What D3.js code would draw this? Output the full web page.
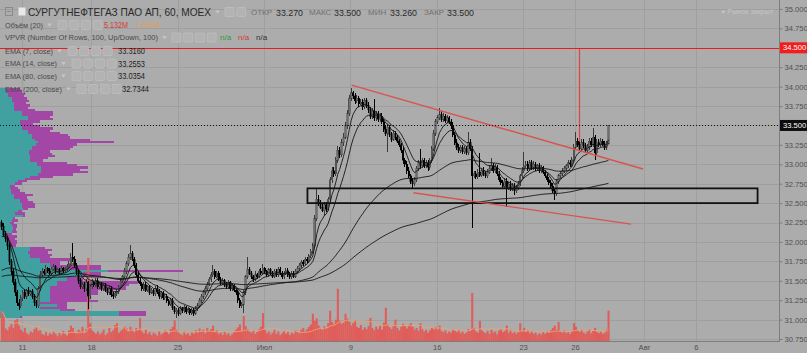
<!DOCTYPE html>
<html><head><meta charset="utf-8">
<script src="https://cdn.jsdelivr.net/npm/d3@7"></script>
<style>
body{margin:0;background:#acacac;overflow:hidden}
svg{display:block}
text{font-family:"Liberation Sans",Arial,sans-serif}
</style>
</head><body><svg id="c" width="807" height="353"></svg>
<script>
// ---------- DATA ----------
const opens=[
32.25,32.20,32.10,32.05,31.95,31.75,31.62,31.48,31.35,31.22,
31.18,31.28,31.35,31.30,31.38,31.33,31.36,31.30,31.22,31.18,
31.40,31.58,31.62,31.60,31.66,31.63,31.60,31.65,31.68,31.62,
31.64,31.60,31.66,31.63,31.65,31.68,31.72,31.80,31.78,31.70,
31.62,31.50,31.42,31.45,31.40,31.48,31.30,31.42,31.48,31.45,
31.50,31.42,31.46,31.40,31.44,31.38,31.35,31.40,31.32,31.30,
31.34,31.36,31.42,31.50,31.55,31.62,31.72,31.80,31.85,31.78,
31.70,31.58,31.50,31.46,31.40,31.45,31.38,31.42,31.35,31.38,
31.33,31.40,31.36,31.30,31.34,31.28,31.30,31.24,31.20,31.25,
31.15,31.10,31.12,31.08,31.14,31.12,31.16,31.10,31.13,31.09,
31.12,31.08,31.14,31.18,31.25,31.30,31.35,31.40,31.45,31.52,
31.58,31.62,31.55,31.60,31.52,31.48,31.50,31.45,31.42,31.48,
31.40,31.44,31.38,31.35,31.25,31.18,31.20,31.35,31.55,31.65,
31.60,31.55,31.52,31.58,31.55,31.62,31.60,31.66,31.62,31.58,
31.64,31.60,31.56,31.62,31.58,31.65,31.60,31.55,31.60,31.63,
31.58,31.55,31.60,31.56,31.62,31.66,31.70,31.74,31.72,31.78,
31.76,31.82,31.88,31.95,32.30,32.55,32.50,32.45,32.40,32.48,
32.42,32.55,32.80,32.92,32.88,33.05,33.18,33.12,33.28,33.35,
33.50,33.65,33.85,33.92,33.88,33.82,33.85,33.78,33.80,33.74,
33.82,33.76,33.70,33.62,33.68,33.60,33.65,33.58,33.62,33.55,
33.45,33.40,33.48,33.38,33.32,33.40,33.35,33.30,33.25,33.18,
33.05,33.00,32.92,32.85,32.78,32.75,32.80,32.95,33.02,32.98,
33.05,32.98,33.02,32.96,33.05,33.20,33.40,33.55,33.60,33.64,
33.58,33.62,33.56,33.60,33.55,33.50,33.38,33.28,33.22,33.18,
33.22,33.16,33.20,33.15,33.28,33.20,32.85,32.88,32.84,32.90,
32.86,32.92,32.88,32.85,32.90,32.95,32.98,32.92,32.96,32.88,
32.80,32.76,32.72,32.78,32.70,32.74,32.68,32.72,32.66,32.70,
32.75,32.85,32.92,32.98,33.00,32.94,33.02,32.96,33.00,32.95,
32.98,32.92,32.96,32.90,32.85,32.80,32.76,32.72,32.66,32.62,
32.78,32.85,32.88,32.92,32.95,32.98,33.02,33.00,33.06,33.22,
33.30,33.25,33.20,33.28,33.24,33.18,33.22,33.30,33.25,33.35,
33.15,33.28,33.25,33.30,33.26,33.22,33.27];
const highs=[
32.28,32.24,32.14,32.08,31.98,31.78,31.66,31.52,31.38,31.26,
31.32,31.38,31.40,31.40,31.42,31.38,31.40,31.33,31.25,31.43,
31.62,31.66,31.65,31.70,31.68,31.66,31.68,31.72,31.70,31.67,
31.66,31.69,31.68,31.68,31.72,31.75,31.86,31.99,31.82,31.73,
31.65,31.54,31.48,31.48,31.52,31.50,31.45,31.52,31.50,31.54,
31.53,31.48,31.48,31.47,31.47,31.41,31.43,31.43,31.35,31.37,
31.40,31.45,31.53,31.58,31.66,31.76,31.84,31.96,31.88,31.81,
31.73,31.62,31.53,31.49,31.48,31.48,31.45,31.45,31.41,31.40,
31.43,31.44,31.39,31.37,31.37,31.33,31.33,31.27,31.28,31.28,
31.18,31.15,31.15,31.17,31.16,31.19,31.18,31.16,31.15,31.15,
31.15,31.17,31.21,31.28,31.33,31.38,31.43,31.48,31.55,31.61,
31.70,31.65,31.63,31.62,31.55,31.53,31.52,31.48,31.51,31.50,
31.47,31.46,31.40,31.38,31.28,31.23,31.38,31.58,31.80,31.68,
31.63,31.58,31.62,31.60,31.65,31.66,31.72,31.68,31.64,31.67,
31.67,31.62,31.65,31.65,31.68,31.68,31.63,31.62,31.66,31.66,
31.61,31.63,31.62,31.65,31.69,31.73,31.77,31.77,31.81,31.80,
31.85,31.91,31.99,32.35,32.68,32.60,32.54,32.50,32.52,32.52,
32.58,32.84,32.97,32.96,33.09,33.24,33.22,33.32,33.40,33.55,
33.70,33.89,33.98,33.95,33.92,33.89,33.88,33.84,33.84,33.86,
33.85,33.80,33.74,33.72,33.84,33.68,33.68,33.66,33.66,33.58,
33.50,33.52,33.50,33.42,33.44,33.43,33.38,33.33,33.28,33.22,
33.08,33.04,32.96,32.88,32.82,32.84,32.98,33.06,33.20,33.08,
33.08,33.05,33.05,33.08,33.24,33.44,33.58,33.64,33.72,33.68,
33.66,33.65,33.63,33.62,33.58,33.54,33.42,33.32,33.26,33.25,
33.25,33.23,33.24,33.42,33.32,33.24,32.92,32.92,32.94,33.15,
32.95,32.96,32.92,32.94,32.99,33.08,33.02,33.00,32.99,32.92,
32.84,32.80,32.82,32.82,32.77,32.78,32.76,32.76,32.73,32.78,
32.88,32.96,33.16,33.04,33.04,33.06,33.05,33.04,33.03,33.01,
33.02,32.99,32.98,32.93,32.88,32.83,32.80,32.76,32.70,32.81,
32.88,32.92,32.95,32.98,33.01,33.05,33.06,33.10,33.26,33.42,
33.34,33.30,33.32,33.32,33.28,33.26,33.34,33.34,33.47,33.38,
33.32,33.32,33.34,33.33,33.30,33.30,33.50];
const lows=[
32.15,32.06,32.00,31.90,31.70,31.58,31.44,31.30,31.18,31.12,
31.15,31.24,31.27,31.27,31.30,31.30,31.27,31.18,31.15,31.15,
31.37,31.55,31.57,31.57,31.60,31.57,31.57,31.62,31.59,31.60,
31.57,31.57,31.60,31.60,31.62,31.65,31.70,31.74,31.67,31.58,
31.46,31.39,31.39,31.36,31.37,31.13,31.27,31.39,31.42,31.42,
31.39,31.40,31.37,31.37,31.35,31.32,31.32,31.29,31.27,31.28,
31.31,31.33,31.39,31.47,31.52,31.59,31.69,31.77,31.75,31.67,
31.55,31.47,31.43,31.37,31.37,31.35,31.35,31.32,31.33,31.30,
31.30,31.33,31.27,31.27,31.25,31.25,31.21,31.17,31.17,31.12,
31.07,31.02,31.05,31.06,31.09,31.09,31.07,31.08,31.06,31.06,
31.05,31.06,31.11,31.15,31.22,31.27,31.32,31.37,31.43,31.49,
31.55,31.52,31.53,31.50,31.45,31.45,31.42,31.40,31.40,31.37,
31.37,31.35,31.32,31.22,31.15,31.15,31.09,31.32,31.52,31.57,
31.52,31.49,31.50,31.52,31.53,31.57,31.57,31.59,31.55,31.55,
31.57,31.53,31.53,31.55,31.55,31.57,31.52,31.52,31.57,31.55,
31.52,31.52,31.53,31.53,31.59,31.63,31.67,31.69,31.70,31.73,
31.73,31.79,31.85,31.92,32.27,32.46,32.42,32.38,32.34,32.38,
32.40,32.52,32.76,32.84,32.85,33.02,33.08,33.09,33.24,33.32,
33.46,33.62,33.82,33.84,33.78,33.79,33.74,33.76,33.70,33.71,
33.72,33.66,33.58,33.58,33.56,33.56,33.55,33.54,33.52,33.42,
33.36,33.16,33.35,33.29,33.30,33.31,33.27,33.22,33.14,33.00,
32.96,32.88,32.82,32.74,32.70,32.72,32.77,32.92,32.94,32.95,
32.95,32.95,32.92,32.93,33.02,33.17,33.37,33.52,33.57,33.55,
33.55,33.53,33.53,33.52,33.46,33.35,33.25,33.18,33.14,33.15,
33.13,33.13,33.12,33.12,33.17,32.18,32.82,32.81,32.81,32.83,
32.83,32.85,32.82,32.82,32.87,32.92,32.89,32.89,32.85,32.77,
32.73,32.69,32.69,32.45,32.67,32.65,32.65,32.60,32.63,32.67,
32.72,32.82,32.89,32.95,32.91,32.91,32.93,32.93,32.92,32.92,
32.89,32.89,32.87,32.82,32.77,32.73,32.69,32.63,32.54,32.59,
32.75,32.82,32.85,32.89,32.92,32.95,32.97,32.97,33.03,33.19,
33.22,33.17,33.17,33.21,33.15,33.15,33.19,33.22,33.22,33.06,
33.12,33.22,33.22,33.23,33.19,33.19,33.26];
const closes=[
32.20,32.10,32.05,31.95,31.75,31.62,31.48,31.35,31.22,31.18,
31.28,31.35,31.30,31.38,31.33,31.36,31.30,31.22,31.18,31.40,
31.58,31.62,31.60,31.66,31.63,31.60,31.65,31.68,31.62,31.64,
31.60,31.66,31.63,31.65,31.68,31.72,31.80,31.78,31.70,31.62,
31.50,31.42,31.45,31.40,31.48,31.30,31.42,31.48,31.45,31.50,
31.42,31.46,31.40,31.44,31.38,31.35,31.40,31.32,31.30,31.34,
31.36,31.42,31.50,31.55,31.62,31.72,31.80,31.85,31.78,31.70,
31.58,31.50,31.46,31.40,31.45,31.38,31.42,31.35,31.38,31.33,
31.40,31.36,31.30,31.34,31.28,31.30,31.24,31.20,31.25,31.15,
31.10,31.12,31.08,31.14,31.12,31.16,31.10,31.13,31.09,31.12,
31.08,31.14,31.18,31.25,31.30,31.35,31.40,31.45,31.52,31.58,
31.62,31.55,31.60,31.52,31.48,31.50,31.45,31.42,31.48,31.40,
31.44,31.38,31.35,31.25,31.18,31.20,31.35,31.55,31.65,31.60,
31.55,31.52,31.58,31.55,31.62,31.60,31.66,31.62,31.58,31.64,
31.60,31.56,31.62,31.58,31.65,31.60,31.55,31.60,31.63,31.58,
31.55,31.60,31.56,31.62,31.66,31.70,31.74,31.72,31.78,31.76,
31.82,31.88,31.95,32.30,32.55,32.50,32.45,32.40,32.48,32.42,
32.55,32.80,32.92,32.88,33.05,33.18,33.12,33.28,33.35,33.50,
33.65,33.85,33.92,33.88,33.82,33.85,33.78,33.80,33.74,33.82,
33.76,33.70,33.62,33.68,33.60,33.65,33.58,33.62,33.55,33.45,
33.40,33.48,33.38,33.32,33.40,33.35,33.30,33.25,33.18,33.05,
33.00,32.92,32.85,32.78,32.75,32.80,32.95,33.02,32.98,33.05,
32.98,33.02,32.96,33.05,33.20,33.40,33.55,33.60,33.64,33.58,
33.62,33.56,33.60,33.55,33.50,33.38,33.28,33.22,33.18,33.22,
33.16,33.20,33.15,33.28,33.20,32.85,32.88,32.84,32.90,32.86,
32.92,32.88,32.85,32.90,32.95,32.98,32.92,32.96,32.88,32.80,
32.76,32.72,32.78,32.70,32.74,32.68,32.72,32.66,32.70,32.75,
32.85,32.92,32.98,33.00,32.94,33.02,32.96,33.00,32.95,32.98,
32.92,32.96,32.90,32.85,32.80,32.76,32.72,32.66,32.62,32.78,
32.85,32.88,32.92,32.95,32.98,33.02,33.00,33.06,33.22,33.30,
33.25,33.20,33.28,33.24,33.18,33.22,33.30,33.25,33.35,33.15,
33.28,33.25,33.30,33.26,33.22,33.27,33.50];
// volume, millions
const volumes=[
5.0,4.2,2.1,1.8,2.4,2.9,2.2,3.5,3.7,2.6,
1.9,1.5,2.2,1.3,1.1,1.6,1.4,2.0,2.3,1.7,
1.8,1.2,1.0,1.5,0.9,1.3,1.1,1.6,1.2,0.8,
1.4,1.0,1.7,1.2,0.9,1.8,2.6,2.2,1.5,1.3,
1.9,1.6,2.4,1.4,2.0,14.0,3.0,1.8,1.5,1.2,
1.6,1.1,1.4,1.9,1.0,1.3,2.2,1.5,1.8,2.7,
3.0,1.4,1.7,2.0,2.5,2.1,1.6,2.4,1.9,1.5,
2.2,1.8,3.9,1.6,1.3,1.9,1.2,1.5,1.0,1.4,
1.2,0.9,1.6,1.1,1.3,1.8,1.5,1.2,2.0,2.4,
3.5,1.9,1.4,1.2,1.0,1.6,1.1,1.3,0.9,1.5,
1.2,1.8,1.4,2.1,1.6,1.9,1.3,2.2,1.7,2.0,
2.6,1.5,1.8,1.2,1.4,1.0,1.6,1.1,1.3,0.9,
1.2,1.5,1.9,2.3,2.8,1.7,4.2,2.5,2.0,1.6,
1.4,1.8,1.2,1.5,2.0,2.4,4.7,1.9,1.3,1.6,
1.1,1.4,1.9,1.2,1.6,1.0,1.3,1.7,1.2,1.5,
1.0,1.4,1.2,1.8,1.5,1.3,1.9,2.2,1.6,2.0,
2.4,2.8,4.6,3.4,3.8,2.6,2.2,1.9,2.5,2.1,
3.0,5.1,3.2,2.8,3.6,8.8,3.4,2.9,3.1,4.6,
3.8,3.2,2.6,3.0,3.5,2.4,2.2,2.7,1.9,2.3,
2.0,2.5,3.9,2.2,1.8,2.4,2.0,2.6,1.9,3.1,
5.6,2.8,2.3,2.0,2.6,3.6,2.2,1.8,2.4,2.9,
2.5,2.1,2.7,3.0,2.4,1.9,2.2,1.7,3.0,2.0,
1.6,1.9,1.4,1.8,2.3,2.0,2.4,1.9,2.6,1.7,
1.5,1.8,1.3,1.6,1.4,2.0,1.7,1.5,1.9,1.3,
1.6,1.2,1.4,2.0,1.8,8.1,2.2,1.6,1.4,3.4,
1.8,1.5,1.3,1.7,1.2,1.9,1.4,1.6,1.1,1.8,
2.0,1.5,1.7,2.6,1.4,1.9,1.3,1.6,1.2,1.5,
3.0,1.7,2.2,1.5,1.8,1.3,1.6,1.2,1.4,1.0,
1.3,1.1,1.5,1.2,1.6,1.4,1.8,2.2,2.6,1.9,
3.2,1.6,1.4,1.8,1.3,1.5,1.2,1.7,3.0,2.4,
1.8,1.5,1.9,1.4,1.2,1.6,2.0,1.3,1.7,2.2,
1.5,1.3,1.6,1.2,1.4,1.9,5.132];
// Volume profile, 100 rows from highest price to lowest
const vpUp=[
6,6,8,8,12,12,14,14,14,14,
22,22,28,28,20,20,22,22,28,28,
32,32,35,38,36,32,32,29,29,30,
30,30,37,37,41,41,41,38,30,25,
18,15,10,10,11,11,14,14,20,20,
22,22,23,18,15,23,13,12,10,12,
13,13,12,6,6,5,7,10,10,30,
30,28,30,30,40,40,50,50,55,107,
83,83,67,67,57,57,50,50,50,50,
50,50,50,40,57,40,60,118,118,20];
const vpDown=[
14,16,17,16,15,17,12,16,14,21,
31,31,22,25,20,13,18,31,22,32,
36,38,55,75,41,41,38,21,23,25,
18,13,30,40,47,39,47,35,23,15,
9,7,5,8,9,14,19,13,8,13,
13,13,5,4,10,2,2,6,4,5,
4,3,5,6,11,10,10,7,6,15,
22,20,22,20,32,20,10,50,45,75,
17,17,16,16,80,71,75,75,47,47,
37,40,47,27,10,27,15,27,27,2];
// EMA settings and their starting values at the first visible bar
const emaPeriods=[7,14,80,200];
const emaSeeds=[32.15,32.05,31.62,31.55];
const emaLegendValues=["33.3160","33.2553","33.0354","32.7344"];
// time axis: trading-day index (0 = 11 June)
const timeTickLabels=["11","18","25","Июл","9","16","23","26","Авг","6"];
const timeTickDays=[0,4,9,14,19,24,29,32,36,39];
const dayDomain=[-1.273,43.81];
const firstBarDay=-1.17, barsPerDay=9;
const priceTicks=[30.75,31.00,31.25,31.50,31.75,32.00,32.25,32.50,32.75,33.00,33.25,33.50,33.75,34.00,34.25,34.50,34.75,35.00];
// drawings: [day, price]
const trendUpper=[[19.08,34.02],[35.94,32.94]];
const trendLower=[[22.65,32.634],[35.25,32.23]];
const targetLine=[[32.265,34.5],[32.265,33.29]];
const levelPrice=34.5, lastPrice=33.5;
const zoneBox={d0:16.52,d1:42.57,p0:32.50,p1:32.69};
const ohlcHeader=["33.270","33.500","33.260","33.500"];

// ---------- CHART ----------
const svg=d3.select("#c");
const plotR=779, plotB=341;
const x=d3.scaleLinear().domain(dayDomain).range([0,plotR]);
const y=d3.scaleLinear().domain([30.75,35]).range([339,9]);
const bx=i=>x(firstBarDay+i/barsPerDay);
const barStep=bx(1)-bx(0);

svg.append("rect").attr("width",807).attr("height",353).attr("fill","#acacac");

// grid
const grid=svg.append("g").attr("shape-rendering","crispEdges");
grid.selectAll(".hg").data(priceTicks).join("line")
  .attr("x1",0).attr("x2",plotR).attr("y1",d=>Math.round(y(d))+0.5).attr("y2",d=>Math.round(y(d))+0.5)
  .attr("stroke","#9f9f9f");
grid.selectAll(".vg").data(timeTickDays).join("line")
  .attr("x1",d=>Math.round(x(d))+0.5).attr("x2",d=>Math.round(x(d))+0.5).attr("y1",0).attr("y2",plotB)
  .attr("stroke","#9f9f9f");

// volume profile
const pHi=d3.max(highs), pLo=d3.min(lows), rowH=(pHi-pLo)/vpUp.length;
const vpMax=d3.max(vpUp.map((u,k)=>u+vpDown[k]));
const xp=d3.scaleLinear().domain([0,vpMax]).range([0,183]);
const vp=svg.append("g").attr("shape-rendering","crispEdges");
vpUp.forEach((u,k)=>{
  const top=y(pHi-k*rowH), bot=y(pHi-(k+1)*rowH);
  vp.append("rect").attr("x",0).attr("y",top).attr("width",xp(u)).attr("height",bot-top).attr("fill","#41a0a0");
  vp.append("rect").attr("x",xp(u)).attr("y",top).attr("width",xp(vpDown[k])).attr("height",bot-top).attr("fill","#a247a6");
});

// volume
const yv=d3.scaleLinear().domain([0,14.5]).range([plotB,255]);
svg.append("g").selectAll("rect").data(volumes).join("rect")
  .attr("x",(d,i)=>bx(i)-barStep/2).attr("width",barStep+0.15)
  .attr("y",d=>yv(d)).attr("height",d=>plotB-yv(d)).attr("fill","#e05d5a");
const volMA=volumes.map((v,i)=>d3.mean(volumes.slice(Math.max(0,i-19),i+1)));
svg.append("path").datum(volMA).attr("fill","none").attr("stroke","#f2a36a").attr("stroke-width",1).attr("opacity",0.85)
  .attr("d",d3.line().x((d,i)=>bx(i)).y(d=>yv(d)));

// candles
const cg=svg.append("g").attr("shape-rendering","crispEdges");
closes.forEach((c,i)=>{
  const o=opens[i], h=Math.max(highs[i],o,c), l=Math.min(lows[i],o,c), up=c>=o;
  const cx=bx(i);
  cg.append("line").attr("x1",cx).attr("x2",cx).attr("y1",y(h)).attr("y2",y(l))
    .attr("stroke",up?"#3a3a3a":"#000").attr("stroke-width",1);
  const t=y(Math.max(o,c)), b=y(Math.min(o,c));
  cg.append("rect").attr("x",cx-0.8).attr("width",1.6).attr("y",t).attr("height",Math.max(1,b-t))
    .attr("fill",up?"#6f6f6f":"#000").attr("stroke",up?"#2e2e2e":"#000").attr("stroke-width",0.4);
});

// EMAs
emaPeriods.forEach((p,k)=>{
  const a=2/(p+1); let e=emaSeeds[k]; const vals=[];
  closes.forEach(c=>{e=a*c+(1-a)*e; vals.push(e);});
  svg.append("path").datum(vals).attr("fill","none").attr("stroke","#151515").attr("stroke-width",0.9)
    .attr("d",d3.line().x((d,i)=>bx(i)).y(d=>y(d)));
});

// drawings
const dl=svg.append("g");
dl.append("rect").attr("x",x(zoneBox.d0)).attr("y",y(zoneBox.p1)).attr("width",x(zoneBox.d1)-x(zoneBox.d0))
  .attr("height",y(zoneBox.p0)-y(zoneBox.p1)).attr("fill","none").attr("stroke","#111").attr("stroke-width",1.8);
[trendUpper,trendLower].forEach(t=>{
  dl.append("line").attr("x1",x(t[0][0])).attr("y1",y(t[0][1])).attr("x2",x(t[1][0])).attr("y2",y(t[1][1]))
    .attr("stroke","#d9534f").attr("stroke-width",1.4);
});
dl.append("line").attr("x1",x(targetLine[0][0])).attr("y1",y(targetLine[0][1])).attr("x2",x(targetLine[1][0])).attr("y2",y(targetLine[1][1]))
  .attr("stroke","#e0443f").attr("stroke-width",1.2);
dl.append("line").attr("x1",0).attr("x2",plotR).attr("y1",Math.round(y(levelPrice))+0.5).attr("y2",Math.round(y(levelPrice))+0.5)
  .attr("stroke","#f01818").attr("stroke-width",1).attr("shape-rendering","crispEdges");
dl.append("line").attr("x1",0).attr("x2",plotR).attr("y1",Math.round(y(lastPrice))+0.5).attr("y2",Math.round(y(lastPrice))+0.5)
  .attr("stroke","#111").attr("stroke-width",1).attr("stroke-dasharray","1,2").attr("shape-rendering","crispEdges");

// axes
const ax=svg.append("g");
ax.append("line").attr("x1",plotR+0.5).attr("x2",plotR+0.5).attr("y1",0).attr("y2",plotB+0.5).attr("stroke","#7d7d7d").attr("shape-rendering","crispEdges");
ax.append("line").attr("x1",0).attr("x2",plotR+0.5).attr("y1",plotB+0.5).attr("y2",plotB+0.5).attr("stroke","#7d7d7d").attr("shape-rendering","crispEdges");
const yAxis=d3.axisRight(y).tickValues(priceTicks).tickFormat(d3.format(".3f")).tickSize(3).tickPadding(2);
const ya=ax.append("g").attr("transform",`translate(${plotR+0.5},0)`).call(yAxis);
ya.select(".domain").remove();
ya.selectAll("line").attr("stroke","#7d7d7d");
ya.selectAll("text").attr("fill","#505050").attr("font-size",7.6).attr("font-family","Liberation Sans, Arial");
const tickMap=new Map(timeTickDays.map((d,i)=>[d,timeTickLabels[i]]));
const xAxis=d3.axisBottom(x).tickValues(timeTickDays).tickFormat(d=>tickMap.get(d)).tickSize(0).tickPadding(3);
const xa=ax.append("g").attr("transform",`translate(0,${plotB+0.5})`).call(xAxis);
xa.select(".domain").remove();
xa.selectAll("text").attr("fill","#505050").attr("font-size",7.6).attr("font-family","Liberation Sans, Arial");

// price labels on axis
function priceBox(p,fill,label){
  const yy=y(p);
  ax.append("rect").attr("x",plotR+1).attr("y",yy-5.5).attr("width",807-plotR-1).attr("height",11).attr("fill",fill);
  ax.append("text").attr("x",plotR+4).attr("y",yy).attr("dominant-baseline","central").attr("fill","#fff")
    .attr("font-size",7.6).text(label);
}
priceBox(levelPrice,"#f21c1c","34.500");
priceBox(lastPrice,"#0d0d0d","33.500");

// market status
svg.append("text").attr("x",721).attr("y",11).attr("dominant-baseline","central").attr("fill","#c4c4c4").attr("font-size",7.2)
  .text("● Рынок закрыт");

// legend / header
const lg=svg.append("g");
function txt(xx,yy,s,size,fill,len,weight){
  const t=lg.append("text").attr("x",xx).attr("y",yy).attr("dominant-baseline","central").attr("font-size",size).attr("fill",fill).text(s);
  if(len) t.attr("textLength",len).attr("lengthAdjust","spacingAndGlyphs");
  if(weight) t.attr("font-weight",weight);
  return t;
}
function icons(x0,yy,n){
  for(let k=0;k<n;k++) lg.append("rect").attr("x",x0+k*11.7).attr("y",yy-4.5).attr("width",9).attr("height",9)
    .attr("fill","#b3b3b3").attr("stroke","#bebebe").attr("stroke-width",0.8).attr("rx",1);
}
function caret(xx,yy){
  lg.append("path").attr("d",`M${xx},${yy-1.5}L${xx+5},${yy-1.5}L${xx+2.5},${yy+1.5}Z`).attr("fill","#c6c6c6");
}
lg.append("rect").attr("x",5.5).attr("y",7.5).attr("width",7).attr("height",8).attr("fill","none").attr("stroke","#8a8a8a");
lg.append("line").attr("x1",7).attr("x2",11).attr("y1",11.5).attr("y2",11.5).attr("stroke","#8a8a8a");
lg.append("rect").attr("x",18.5).attr("y",7.5).attr("width",7).attr("height",8).attr("fill","#e8e8e8");
txt(28,12,"СУРГУТНЕФТЕГАЗ ПАО АП, 60, MOEX",10.5,"#2a2a2a",183);
caret(215,12);
icons(225,12,2);
const hdrLabels=["ОТКР","МАКС","МИН","ЗАКР"], hdrX=[251,309,368,424], hdrValX=[276,334,390,447];
hdrLabels.forEach((s,k)=>{txt(hdrX[k],12.5,s,8,"#707070",null); txt(hdrValX[k],12.5,ohlcHeader[k],9.5,"#2a2a2a",27);});
txt(5,25,"Объём (20)",8,"#4a4a4a",38);
caret(47,25);
icons(58,25,4);
txt(104,25,"5.132M",8.5,"#d83a32",24);
txt(136,25,"1.665M",8.5,"#f09a4a",24).attr("opacity",0.7);
txt(5,37.5,"VPVR (Number Of Rows, 100, Up/Down, 100)",8,"#4a4a4a",153);
caret(162,37.5);
icons(172,37.5,4);
txt(220,37.5,"n/a",8,"#2e9e3a");
txt(238,37.5,"n/a",8,"#d83a32");
txt(256,37.5,"n/a",8,"#333");
const emaY=[51,63.5,76,89], emaLen=[48,52,52,57];
emaPeriods.forEach((p,k)=>{
  txt(5,emaY[k],`EMA (${p}, close)`,8,"#4a4a4a",emaLen[k]);
  caret(5+emaLen[k]+4,emaY[k]);
  icons(5+emaLen[k]+15,emaY[k],4);
  txt(k===3?122:118,emaY[k],emaLegendValues[k],8.5,"#1e1e1e",27);
});
</script>
</body></html>
